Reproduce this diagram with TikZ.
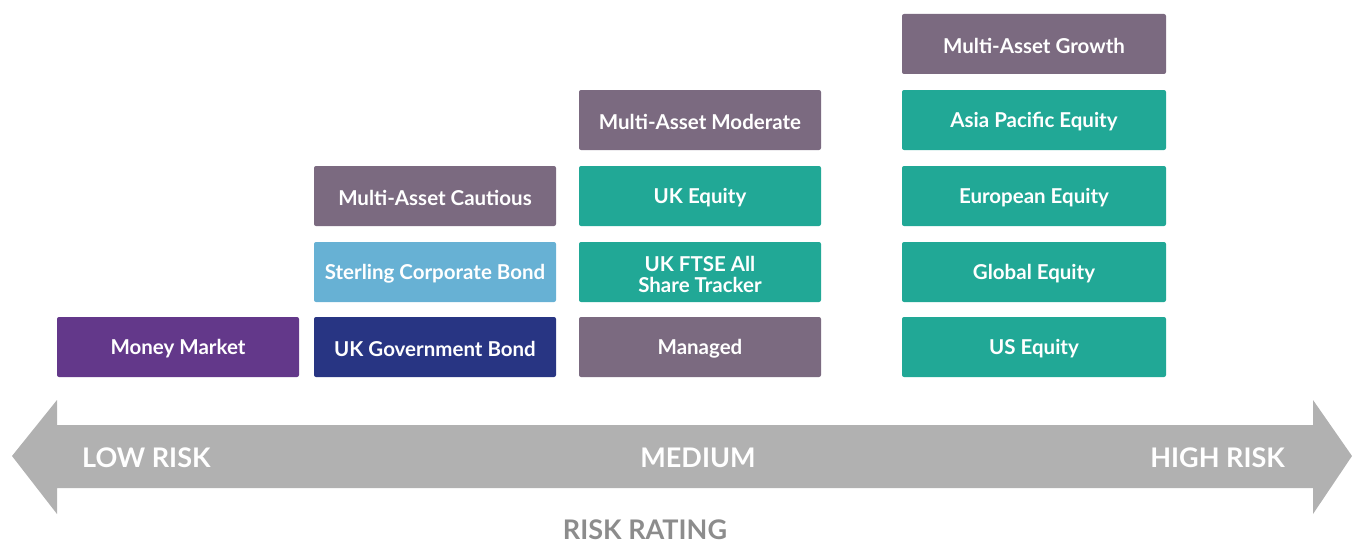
\documentclass[tikz,border=0pt]{standalone}
\usepackage{fontspec}
\setmainfont{Lato}[UprightFont=* Bold]
\definecolor{mmpurple}{HTML}{63388A}
\definecolor{navy}{HTML}{283583}
\definecolor{lblue}{HTML}{67B1D4}
\definecolor{mauve}{HTML}{7B6A80}
\definecolor{teal}{HTML}{21A896}
\definecolor{arrowgray}{HTML}{B1B1B1}
\definecolor{labelgray}{HTML}{8C8C8C}
\begin{document}
\begin{tikzpicture}[x=1pt,y=-1pt,
  fund/.style={draw=none, text=white, align=center,
    font=\fontsize{20.5}{21}\selectfont, inner sep=0pt, yshift=-2pt},
  risk/.style={text=white, font=\fontsize{27}{27}\selectfont, inner sep=0pt},
]
\useasboundingbox (0,0) rectangle (1352,543);
% arrow
\fill[arrowgray] (12,456) -- (57,400) -- (57,425) -- (1313,425) -- (1313,400) -- (1352,456) -- (1313,514) -- (1313,488) -- (57,488) -- (57,514) -- cycle;
\node[risk, anchor=west] (low) at (82,458) {LOW RISK};
\node[risk] (med) at (698,458) {MEDIUM};
\node[risk, anchor=east] (high) at (1285,458) {HIGH RISK};
\node[font=\fontsize{27}{27}\selectfont, text=labelgray, inner sep=0pt] (rating) at (645,530) {RISK RATING};
% column boxes
\foreach \x/\X/\ya/\yb/\c/\t/\n in {
  57/299/317/377/mmpurple/Money Market/mm,
  314/556/317/377/navy/UK Government Bond/ukgb,
  314/556/242/302/lblue/Sterling Corporate Bond/scb,
  314/556/166/226/mauve/Multi-Asset Cautious/mac,
  579/821/317/377/mauve/Managed/man,
  579/821/242/302/teal/{UK FTSE All\\Share Tracker}/ftse,
  579/821/166/226/teal/UK Equity/uke,
  579/821/90/150/mauve/Multi-Asset Moderate/mam,
  902/1166/317/377/teal/US Equity/use,
  902/1166/242/302/teal/Global Equity/ge,
  902/1166/166/226/teal/European Equity/ee,
  902/1166/90/150/teal/Asia Pacific Equity/ape,
  902/1166/14/74/mauve/Multi-Asset Growth/mag}{
  \fill[\c, rounded corners=2pt] (\x,\ya) rectangle (\X,\yb);
  \node[fund] (\n) at ({(\x+\X)/2},{(\ya+\yb)/2}) {\t};
}
\end{tikzpicture}
\end{document}
